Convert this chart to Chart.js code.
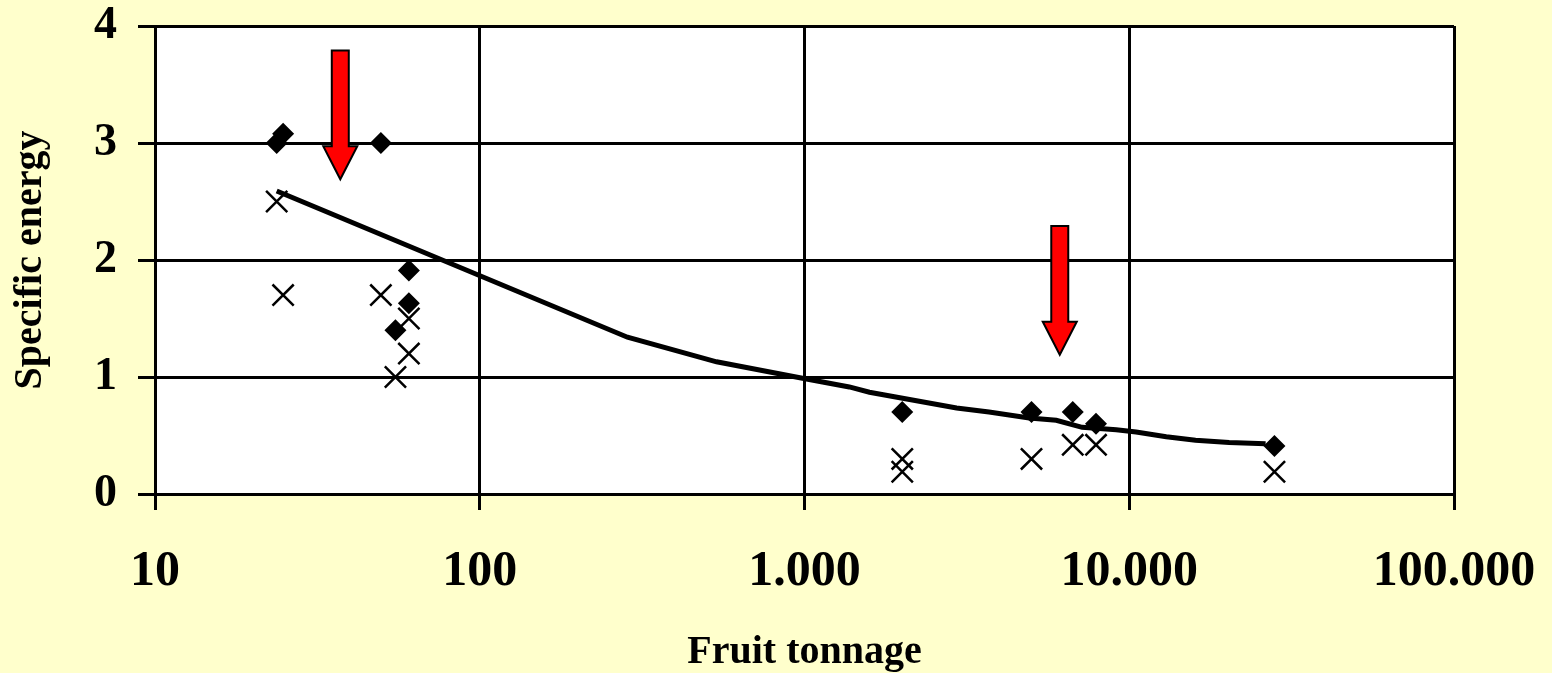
<!DOCTYPE html>
<html>
<head>
<meta charset="utf-8">
<script src="https://cdn.jsdelivr.net/npm/chart.js@4/dist/chart.umd.min.js"></script>
<style>
  html, body { margin: 0; padding: 0; background: #FFFFCC; }
  #wrap { width: 1552px; height: 673px; }
</style>
</head>
<body>
<div id="wrap"><canvas id="chart"></canvas></div>
<script>
// measured values (diamonds)
const diamondX = [23.7, 24.8, 49.6, 60.5, 60.5, 55, 2000, 5000, 6700, 7900, 28000];
const diamondY = [3.0, 3.08, 3.0, 1.91, 1.63, 1.4, 0.7, 0.7, 0.7, 0.6, 0.41];

// measured values (crosses)
const crossX = [23.7, 24.8, 49.6, 60.5, 60.5, 55, 2000, 2000, 5000, 6700, 7900, 28000];
const crossY = [2.5, 1.7, 1.7, 1.5, 1.2, 1.0, 0.3, 0.19, 0.3, 0.42, 0.42, 0.19];

// trend line
const fitX = [23.7, 285, 536, 986, 1374, 1585, 2940, 3700, 4920, 5960, 7160, 9120, 10500, 13000, 16000, 20300, 26300];
const fitY = [2.59, 1.34, 1.13, 0.99, 0.915, 0.87, 0.735, 0.7, 0.65, 0.63, 0.57, 0.55, 0.53, 0.49, 0.46, 0.44, 0.43];

// red arrows (x position, top and tip in data units)
const arrowX = [37.2, 6110];
const arrowTop = [3.79, 2.29];
const arrowTip = [2.69, 1.19];

const xTicks = [10, 100, 1000, 10000, 100000];
const xTickLabels = ['10', '100', '1.000', '10.000', '100.000'];
const yTicks = [0, 1, 2, 3, 4];

const serif = '"Liberation Serif", "Times New Roman", serif';

const toPoints = (xs, ys) => xs.map((v, i) => ({ x: v, y: ys[i] }));

const plotArea = {
  id: 'plotArea',
  beforeDraw(chart) {
    const { ctx, chartArea: a } = chart;
    ctx.save();
    ctx.fillStyle = '#FFFFFF';
    ctx.fillRect(a.left, a.top, a.right - a.left, a.bottom - a.top);
    ctx.restore();
  }
};

const arrows = {
  id: 'arrows',
  afterDatasetsDraw(chart) {
    const { ctx, scales: { x, y } } = chart;
    ctx.save();
    arrowX.forEach((v, i) => {
      const cx = x.getPixelForValue(v);
      const top = y.getPixelForValue(arrowTop[i]);
      const tip = y.getPixelForValue(arrowTip[i]);
      const sw = 8.5, hw = 17, hh = 33;
      ctx.beginPath();
      ctx.moveTo(cx - sw, top);
      ctx.lineTo(cx + sw, top);
      ctx.lineTo(cx + sw, tip - hh);
      ctx.lineTo(cx + hw, tip - hh);
      ctx.lineTo(cx, tip);
      ctx.lineTo(cx - hw, tip - hh);
      ctx.lineTo(cx - sw, tip - hh);
      ctx.closePath();
      ctx.fillStyle = '#FF0000';
      ctx.fill();
      ctx.lineWidth = 2;
      ctx.strokeStyle = '#000000';
      ctx.stroke();
    });
    ctx.restore();
  }
};

new Chart(document.getElementById('chart'), {
  type: 'scatter',
  data: {
    datasets: [
      {
        label: 'crosses',
        data: toPoints(crossX, crossY),
        pointStyle: 'crossRot',
        pointRadius: 15,
        borderColor: '#000',
        borderWidth: 2.5,
        order: 0
      },
      {
        label: 'diamonds',
        data: toPoints(diamondX, diamondY),
        pointStyle: 'rectRot',
        pointRadius: 11,
        backgroundColor: '#000',
        borderColor: '#000',
        borderWidth: 0,
        order: 1
      },
      {
        label: 'trend',
        data: toPoints(fitX, fitY),
        showLine: true,
        pointRadius: 0,
        borderColor: '#000',
        borderWidth: 5,
        tension: 0,
        order: 2
      }
    ]
  },
  options: {
    responsive: true,
    maintainAspectRatio: false,
    animation: false,
    events: [],
    layout: { padding: { top: 26, right: 98, left: 0, bottom: 0 } },
    plugins: {
      legend: { display: false },
      tooltip: { enabled: false }
    },
    scales: {
      x: {
        type: 'logarithmic',
        min: 10,
        max: 100000,
        afterBuildTicks: s => { s.ticks = xTicks.map(v => ({ value: v })); },
        afterFit: s => { s.height = 179; s.paddingLeft = 0; s.paddingRight = 0; },
        ticks: {
          autoSkip: false,
          maxRotation: 0,
          padding: 32,
          color: '#000',
          font: { family: serif, size: 50, weight: 'bold' },
          callback: (v, i) => xTickLabels[i]
        },
        grid: { color: '#000', lineWidth: 3, tickLength: 16 },
        border: { color: '#000', width: 3 },
        title: {
          display: true,
          text: 'Fruit tonnage',
          color: '#000',
          font: { family: serif, size: 40, weight: 'bold', lineHeight: 1 },
          padding: { top: 0, bottom: 0 }
        }
      },
      y: {
        min: 0,
        max: 4,
        afterBuildTicks: s => { s.ticks = yTicks.map(v => ({ value: v })); },
        afterFit: s => { s.width = 155; s.paddingTop = 0; s.paddingBottom = 0; },
        ticks: {
          padding: 21,
          color: '#000',
          font: { family: serif, size: 46, weight: 'bold' }
        },
        grid: { color: '#000', lineWidth: 3, tickLength: 17 },
        border: { color: '#000', width: 3 },
        title: {
          display: true,
          text: 'Specific energy',
          color: '#000',
          font: { family: serif, size: 40, weight: 'bold', lineHeight: 1 },
          padding: { top: 11, bottom: 0 }
        }
      }
    }
  },
  plugins: [plotArea, arrows]
});
</script>
</body>
</html>
